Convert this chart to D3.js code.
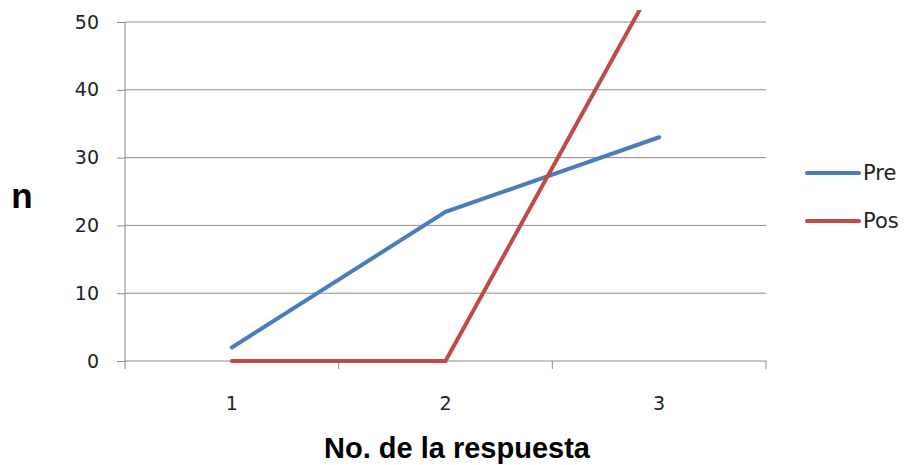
<!DOCTYPE html>
<html lang="es">
<head>
    <meta charset="UTF-8">
    <title>n por No. de la respuesta</title>
    <script src="https://d3js.org/d3.v7.min.js"></script>
    <style>
        body { margin: 0; background: #ffffff; }
        .lbl { font-family: 'DejaVu Sans', sans-serif; font-size: 19px; fill: #222; }
        .axis-title { font-family: 'Liberation Sans', Arial, sans-serif; font-weight: bold; fill: #000; }
        .legend text { font-family: 'DejaVu Sans', sans-serif; font-size: 21px; fill: #222; }
    </style>
</head>
<body>
<div id="chart"></div>
<script>
    const categories = ["1", "2", "3"];
    const yTicks = [0, 10, 20, 30, 40, 50];
    const preValues = [2, 22, 33];
    const posValues = [0, 0, 57];
    const seriesNames = ["Pre", "Pos"];
    const seriesColors = ["#4a7ebb", "#be4b48"];

    const width = 904, height = 465;
    const margin = {top: 22, right: 138, bottom: 104, left: 125};
    const innerW = width - margin.left - margin.right;
    const innerH = height - margin.top - margin.bottom;

    const svg = d3.select("#chart").append("svg")
        .attr("width", width)
        .attr("height", height);

    const g = svg.append("g")
        .attr("transform", `translate(${margin.left},${margin.top})`);

    const x = d3.scaleBand().domain(categories).range([0, innerW]);
    const y = d3.scaleLinear().domain([0, 50]).range([innerH, 0]);

    // gridlines
    g.selectAll(".grid")
        .data(yTicks.filter(d => d > 0))
        .enter().append("line")
        .attr("x1", 0).attr("x2", innerW)
        .attr("y1", d => y(d)).attr("y2", d => y(d))
        .attr("stroke", "#8c8c8c").attr("stroke-width", 1);

    // y axis
    const yAxis = g.append("g")
        .call(d3.axisLeft(y).tickValues(yTicks).tickSize(8).tickPadding(18));
    yAxis.selectAll("path, line").attr("stroke", "#8c8c8c");
    yAxis.select(".domain").attr("d", `M0,${innerH + 8}V0`);
    yAxis.selectAll(".tick text").attr("class", "lbl");
    yAxis.attr("font-size", null).attr("font-family", null);

    // x axis: ticks between categories
    const xAxis = g.append("g").attr("transform", `translate(0,${innerH})`);
    xAxis.append("line")
        .attr("x1", 0).attr("x2", innerW)
        .attr("stroke", "#8c8c8c");
    const bounds = categories.map(c => x(c)).concat([innerW]);
    xAxis.selectAll(".xt")
        .data(bounds.slice(1))
        .enter().append("line")
        .attr("x1", d => d).attr("x2", d => d)
        .attr("y1", 0).attr("y2", 8)
        .attr("stroke", "#8c8c8c");
    xAxis.selectAll(".xl")
        .data(categories)
        .enter().append("text")
        .attr("class", "lbl")
        .attr("x", d => x(d) + x.bandwidth() / 2)
        .attr("y", 49)
        .attr("text-anchor", "middle")
        .text(d => d);

    // clip region (lines may run a little past the top gridline)
    svg.append("clipPath").attr("id", "plotClip")
        .append("rect")
        .attr("x", -10).attr("y", -12)
        .attr("width", innerW + 20).attr("height", innerH + 20);

    const line = d3.line()
        .x((d, i) => x(categories[i]) + x.bandwidth() / 2)
        .y(d => y(d));

    [preValues, posValues].forEach((vals, i) => {
        g.append("path")
            .datum(vals)
            .attr("clip-path", "url(#plotClip)")
            .attr("fill", "none")
            .attr("stroke", seriesColors[i])
            .attr("stroke-width", 4)
            .attr("stroke-linecap", "round")
            .attr("d", line);
    });

    // axis titles
    svg.append("text")
        .attr("class", "axis-title")
        .attr("x", 22).attr("y", 208)
        .attr("text-anchor", "middle")
        .style("font-size", "35px")
        .text("n");

    svg.append("text")
        .attr("class", "axis-title")
        .attr("x", 457)
        .attr("y", 458)
        .attr("text-anchor", "middle")
        .style("font-size", "29px")
        .text("No. de la respuesta");

    // legend
    const legend = svg.append("g").attr("class", "legend");
    seriesNames.forEach((name, i) => {
        const ly = 173 + i * 48;
        legend.append("line")
            .attr("x1", 807).attr("x2", 859)
            .attr("y1", ly).attr("y2", ly)
            .attr("stroke", seriesColors[i])
            .attr("stroke-width", 4)
            .attr("stroke-linecap", "round");
        legend.append("text")
            .attr("x", 863).attr("y", ly + 7)
            .text(name);
    });
</script>
</body>
</html>
